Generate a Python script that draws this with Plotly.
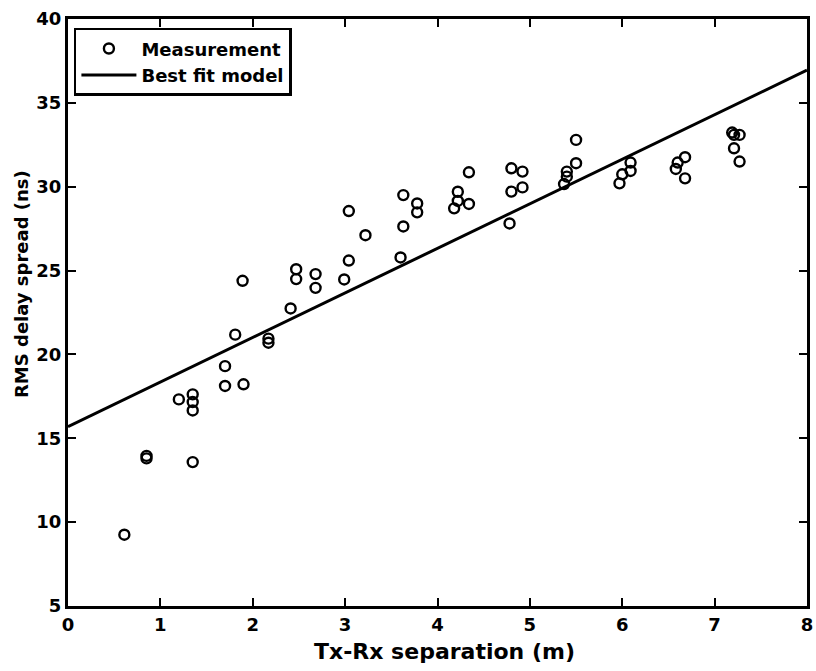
import plotly.graph_objects as go

# Measurement data: Tx-Rx separation (m) vs RMS delay spread (ns)
sep_m = [0.61, 0.85, 0.85, 1.20, 1.35, 1.35, 1.35, 1.35, 1.70, 1.70, 1.81, 1.89, 1.90,
         2.17, 2.17, 2.41, 2.47, 2.47, 2.68, 2.68, 2.99, 3.04, 3.04, 3.22, 3.60, 3.63,
         3.63, 3.78, 3.78, 4.18, 4.22, 4.22, 4.34, 4.34, 4.78, 4.80, 4.80, 4.92, 4.92,
         5.37, 5.40, 5.40, 5.50, 5.50, 5.97, 6.00, 6.09, 6.09, 6.58, 6.60, 6.68, 6.68,
         7.19, 7.21, 7.27, 7.21, 7.27]
rms_ns = [9.25, 13.95, 13.8, 17.32, 17.62, 17.16, 16.66, 13.58, 19.3, 18.12, 21.18, 24.39, 18.22,
          20.94, 20.7, 22.74, 25.08, 24.49, 24.79, 23.97, 24.47, 25.6, 28.55, 27.11, 25.78, 29.5,
          27.63, 29.0, 28.47, 28.71, 29.7, 29.15, 30.86, 28.97, 27.81, 31.1, 29.71, 30.9, 29.96,
          30.16, 30.9, 30.6, 32.79, 31.4, 30.2, 30.74, 31.44, 30.94, 31.06, 31.44, 31.76, 30.5,
          33.23, 33.09, 33.09, 32.29, 31.5]

# Best fit model endpoints
fit_x = [0, 8]
fit_y = [15.7, 36.95]

x_ticks = [0, 1, 2, 3, 4, 5, 6, 7, 8]
y_ticks = [5, 10, 15, 20, 25, 30, 35, 40]

FONT = "DejaVu Sans, Arial, sans-serif"

fig = go.Figure()
fig.add_trace(go.Scatter(
    x=sep_m, y=rms_ns, mode="markers", name="Measurement",
    marker=dict(symbol="circle-open", size=10, color="black", line=dict(width=2.4, color="black")),
))
fig.add_trace(go.Scatter(
    x=fit_x, y=fit_y, mode="lines", name="Best fit model",
    line=dict(color="black", width=3),
))

axis_common = dict(
    showgrid=False, zeroline=False, showline=True, linecolor="black", linewidth=3,
    mirror="allticks", ticks="inside", ticklen=8, tickwidth=2, tickcolor="black",
    tickfont=dict(family=FONT, size=18, color="black", weight="bold"),
    automargin=False, ticklabeloverflow="allow",
)

fig.update_xaxes(range=[0, 8], tickvals=x_ticks, ticktext=[str(v) for v in x_ticks], **axis_common)
fig.update_yaxes(range=[5, 40], tickvals=y_ticks, ticktext=[str(v) for v in y_ticks], **axis_common)

fig.add_annotation(
    text="Tx-Rx separation (m)", xref="paper", yref="paper", x=0.510, y=-0.078,
    xanchor="center", yanchor="middle", showarrow=False,
    font=dict(family=FONT, size=22, color="black", weight="bold"),
)
fig.add_annotation(
    text="RMS delay spread (ns)", xref="paper", yref="paper", x=-0.0622, y=0.5486,
    xanchor="center", yanchor="middle", showarrow=False, textangle=-90,
    font=dict(family=FONT, size=18, color="black", weight="bold"),
)

fig.update_layout(
    width=816, height=671,
    margin=dict(l=68, r=9, t=19, b=65),
    paper_bgcolor="white", plot_bgcolor="white",
    showlegend=True,
    legend=dict(
        x=0.008, y=0.985, xanchor="left", yanchor="top",
        bgcolor="white", bordercolor="black", borderwidth=2.5,
        font=dict(family=FONT, size=18, color="black", weight="bold"),
        itemwidth=55, tracegroupgap=0,
    ),
)

fig.write_html(
    "out.html",
    config={"displayModeBar": False, "staticPlot": True},
    post_script="document.documentElement.style.margin='0';document.body.style.margin='0';document.body.style.overflow='hidden';",
)
